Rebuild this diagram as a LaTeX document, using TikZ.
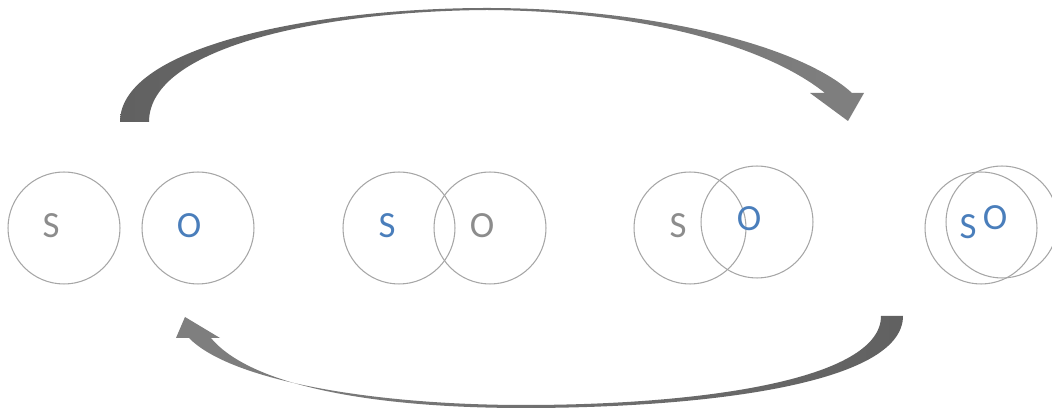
\documentclass[tikz,border=0pt]{standalone}
\usepackage{fontspec}
\setmainfont{Carlito}
\usepackage{tikz}
\usetikzlibrary{positioning}
\definecolor{ringgray}{HTML}{A6A6A6}
\definecolor{txtgray}{HTML}{8C8C8C}
\definecolor{txtblue}{HTML}{4A7EBB}

\begin{document}
\begin{tikzpicture}[x=0.02cm,y=-0.02cm,
  ring/.style={draw=ringgray,line width=0.6pt,circle,minimum size=2.24cm,inner sep=0pt},
  letter/.style={font=\fontsize{21}{24}\selectfont,inner sep=0pt}]
  \useasboundingbox (0,0) rectangle (1052,411);
  % apart
  \node[ring] (s1) at (64,228) {};
  \node[ring] (o1) at (198,228) {};
  \node[letter,txtgray] (s1l) at (51,226) {S};
  \node[letter,txtblue] (o1l) at (189,226) {O};
  % touching
  \node[ring] (s2) at (399,228) {};
  \node[ring] (o2) at (490,228) {};
  \node[letter,txtblue] (s2l) at (387,226) {S};
  \node[letter,txtgray] (o2l) at (482,226) {O};
  % overlapping
  \node[ring] (s3) at (690,228) {};
  \node[ring] (o3) at (757,222) {};
  \node[letter,txtgray] (s3l) at (678,226) {S};
  \node[letter,txtblue] (o3l) at (749,219) {O};
  % merged
  \node[ring] (s4) at (981,228) {};
  \node[ring] (o4) at (1002,222) {};
  \node[letter,txtblue] (s4l) at (968,227) {S};
  \node[letter,txtblue] (o4l) at (995,218) {O};
  % forward arrow
  \shade[left color=black!62,right color=black!50]
    (120,122) .. controls (120,45) and (320,8) .. (487,8)
    .. controls (650,8) and (800,45) .. (852,93)
    -- (864,93) -- (848,121) -- (810,93) -- (825,93)
    .. controls (765,45) and (640,11) .. (487,10)
    .. controls (330,11) and (149,45) .. (149,122) -- cycle;
  % backward arrow
  \shade[left color=black!50,right color=black!62]
    (903,316) .. controls (903,385) and (700,408) .. (524,408)
    .. controls (370,408) and (250,385) .. (211,338)
    -- (220,338) -- (185,317) -- (176,338) -- (189,338)
    .. controls (230,380) and (370,405) .. (524,405)
    .. controls (700,405) and (881,380) .. (881,316) -- cycle;
\end{tikzpicture}
\end{document}
